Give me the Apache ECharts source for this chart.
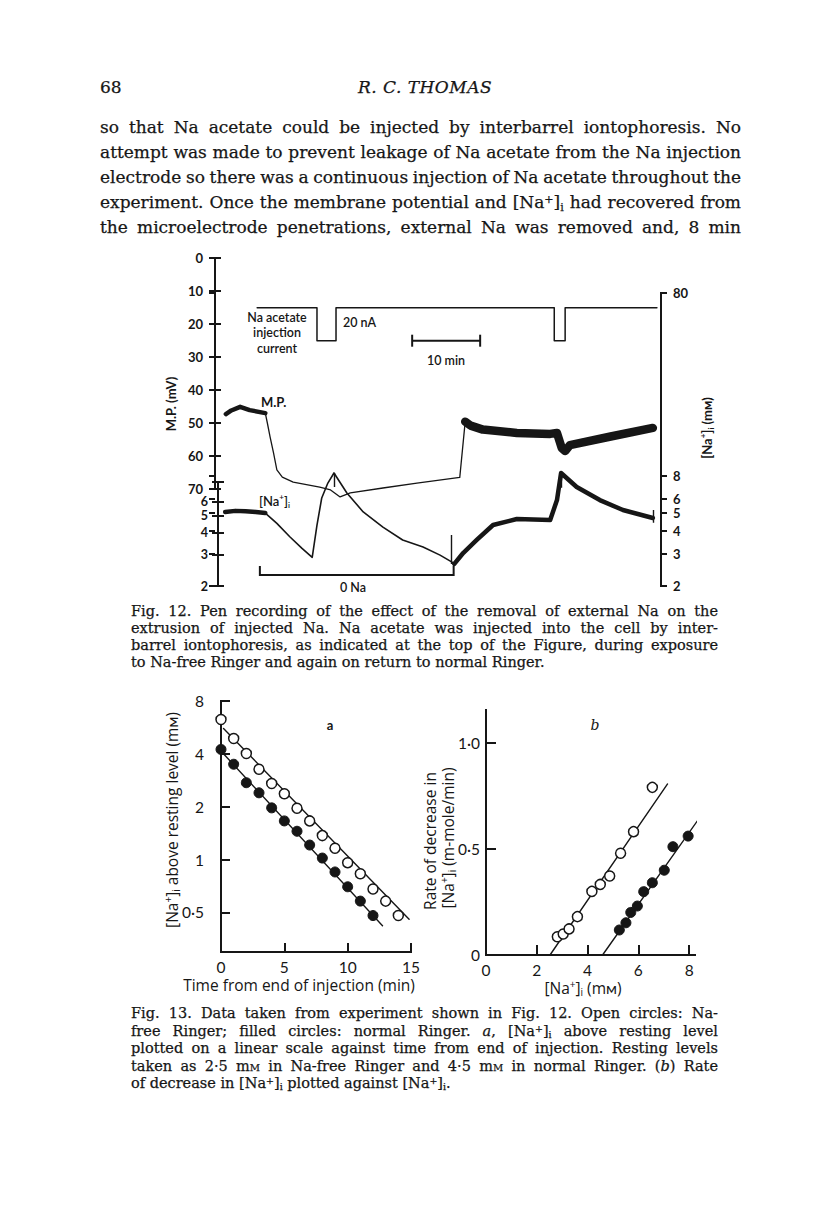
<!DOCTYPE html>
<html>
<head>
<meta charset="utf-8">
<script src="https://cdn.jsdelivr.net/npm/echarts@6.0.0/dist/echarts.min.js"></script>
<style>
  html, body { margin:0; padding:0; background:#fff; }
  #page { position:relative; width:816px; height:1212px; overflow:hidden; background:#fff; }
  #chart { position:absolute; left:0; top:0; width:816px; height:1212px; }
  .t { position:absolute; white-space:nowrap; font-family:"DejaVu Serif","Liberation Serif",serif; color:#161616; -webkit-text-stroke:0.25px #161616; }
  .body { font-size:17px; line-height:20px; }
  .cap { font-size:14.5px; line-height:17px; }
  .t sup { font-size:0.65em; vertical-align:0.45em; line-height:0; }
  .t sub { font-size:0.65em; vertical-align:-0.25em; line-height:0; }
  .sc { font-variant:small-caps; }
</style>
</head>
<body>
<div id="page">
  <div id="chart"></div>

  <div class="t body" style="left:100px;top:77px;">68</div>
  <div class="t body" style="left:100px;top:77px;width:650px;text-align:center;font-style:italic;letter-spacing:0.5px;">R. C. THOMAS</div>

  <div class="t body j" data-w="641" style="left:100px;top:117px;">so that Na acetate could be injected by interbarrel iontophoresis. No</div>
  <div class="t body j" data-w="641" style="left:100px;top:142px;">attempt was made to prevent leakage of Na acetate from the Na injection</div>
  <div class="t body j" data-w="641" style="left:100px;top:167px;">electrode so there was a continuous injection of Na acetate throughout the</div>
  <div class="t body j" data-w="641" style="left:100px;top:192px;">experiment. Once the membrane potential and [Na<sup>+</sup>]<sub>i</sub> had recovered from</div>
  <div class="t body j" data-w="641" style="left:100px;top:217px;">the microelectrode penetrations, external Na was removed and, 8 min</div>

  <div class="t cap j" data-w="587" style="left:131px;top:603px;">Fig. 12. Pen recording of the effect of the removal of external Na on the</div>
  <div class="t cap j" data-w="587" style="left:131px;top:620px;">extrusion of injected Na. Na acetate was injected into the cell by inter-</div>
  <div class="t cap j" data-w="587" style="left:131px;top:637px;">barrel iontophoresis, as indicated at the top of the Figure, during exposure</div>
  <div class="t cap" style="left:131px;top:654px;">to Na-free Ringer and again on return to normal Ringer.</div>

  <div class="t cap j" data-w="587" style="left:131px;top:1005px;">Fig. 13. Data taken from experiment shown in Fig. 12. Open circles: Na-</div>
  <div class="t cap j" data-w="587" style="left:131px;top:1023px;">free Ringer; filled circles: normal Ringer. <i>a</i>, [Na<sup>+</sup>]<sub>i</sub> above resting level</div>
  <div class="t cap j" data-w="587" style="left:131px;top:1040px;">plotted on a linear scale against time from end of injection. Resting levels</div>
  <div class="t cap j" data-w="587" style="left:131px;top:1058px;">taken as 2·5 m<span class="sc">m</span> in Na-free Ringer and 4·5 m<span class="sc">m</span> in normal Ringer. (<i>b</i>) Rate</div>
  <div class="t cap" style="left:131px;top:1075px;">of decrease in [Na<sup>+</sup>]<sub>i</sub> plotted against [Na<sup>+</sup>]<sub>i</sub>.</div>
</div>

<script>
// ================= DATA =================
// Fig. 12 : time in minutes from start of record
// membrane potential (mV, plotted downwards)
const mpEarly  = [[1.6,47.3],[2.4,46.2],[3.7,45.1],[5.1,46.1],[7.4,47.0]];
const mpMiddle = [[7.4,47.0],[7.7,50.0],[8.1,54.2],[8.6,59.0],[9.1,64.2],[9.9,66.4],[11.5,67.9],[15.4,69.4],[17.0,70.3],[18.4,72.4],[19.9,71.2],[24.7,69.7],[29.7,68.2],[36.0,66.5],[36.8,49.6]];
const mpLate   = [[36.8,49.6],[37.6,50.8],[39.4,52.0],[44.4,53.0],[49.3,53.3],[50.3,53.0],[51.0,57.6],[51.5,58.5],[52.2,56.7],[58.2,54.1],[64.4,51.5]];
// intracellular Na (mM, log scale)
const naEarly  = [[1.5,5.08],[3.0,5.15],[4.5,5.12],[6.0,5.08],[7.4,5.01]];
const naMiddle = [[7.4,5.01],[9.1,4.40],[11.0,3.72],[12.8,3.21],[14.3,2.87],[15.0,4.31],[15.7,6.06],[16.6,7.31],[17.5,8.30],[19.4,6.45],[21.8,5.08],[24.7,4.20],[27.6,3.57],[30.6,3.27],[33.1,2.95],[34.8,2.71],[35.2,2.64]];
const naLate   = [[35.2,2.64],[36.5,3.03],[38.5,3.57],[40.9,4.31],[44.4,4.65],[49.3,4.59],[50.3,5.90],[50.9,8.30],[53.2,6.96],[56.6,5.90],[60.0,5.21],[64.4,4.71]];
const naMarkers = [[[17.5,8.30],[17.5,6.96]],[[34.8,3.80],[34.8,2.64]],[[50.9,8.30],[50.9,6.90]],[[64.4,5.20],[64.4,4.43]]];
const zeroNaBar = [[6.6,2.57],[6.6,2.30],[35.1,2.30],[35.1,2.57]];
// injection current (nA)
const injectionCurrent = [[6.2,0],[15.0,0],[15.0,20],[17.8,20],[17.8,0],[49.9,0],[49.9,20],[51.5,20],[51.5,0],[65.0,0]];
const scaleBar10min = [[29,20],[39,20]];
const mpTicks = [0,10,20,30,40,50,60,70];
const naTicksRight = [2,3,4,5,6,8,80];
const naTicksLeft = [2,3,4,5,6];

// Fig. 13a : [Na]i above resting level vs time
const timeOpenA   = [0,1,2,3,4,5,6,7,8,9,10,11,12,13,14];
const naOpenA     = [6.28,4.89,4.02,3.27,2.71,2.37,1.96,1.66,1.37,1.16,0.96,0.83,0.68,0.58,0.48];
const timeFilledA = [0,1,2,3,4,5,6,7,8,9,10,11,12];
const naFilledA   = [4.24,3.49,2.74,2.40,1.97,1.66,1.45,1.21,1.02,0.85,0.70,0.58,0.48];
const fitOpenA    = [[0.2,5.58],[14.85,0.457]];
const fitFilledA  = [[0.05,4.11],[12.75,0.42]];
const ticksAY = [0.5,1,2,4,8];
const ticksAX = [0,5,10,15];

// Fig. 13b : rate of decrease vs [Na]i
const naOpenB     = [2.81,3.04,3.27,3.60,4.17,4.50,4.87,5.30,5.81,6.55];
const rateOpenB   = [0.086,0.099,0.123,0.181,0.300,0.333,0.373,0.480,0.582,0.791];
const naFilledB   = [5.25,5.51,5.70,5.96,6.21,6.55,7.02,7.36,7.96];
const rateFilledB = [0.118,0.152,0.201,0.231,0.299,0.341,0.400,0.511,0.561];
const fitOpenB    = [[2.52,0],[7.15,0.807]];
const fitFilledB  = [[4.59,0],[8.53,0.668]];
const ticksBY = [0,0.5,1.0];
const ticksBX = [0,2,4,6,8];

// ================= CHART =================
const C = '#161616';
const SANS = 'Lato, "Open Sans", sans-serif';
const TITLE = '"Open Sans", Lato, sans-serif';
const dot = v => { const r = Math.round(v*100)/100; return r === 0.5 ? '0·5' : String(Math.round(r)); };
const dotB = v => { const r = Math.round(v*100)/100; return r === 0 ? '0' : r.toFixed(1).replace('.', '·'); };

const tickStyle = {color:C, width:2, cap:'butt'};
const lineStyleAx = {color:C, width:2, cap:'square'};

function hiddenX(g, max){ return {type:'value', gridIndex:g, min:0, max:max, show:false, splitLine:{show:false}}; }

const xAxis = [
  hiddenX(0, 65.6), hiddenX(1, 65.6), hiddenX(2, 1), hiddenX(3, 65.6),
  {type:'value', gridIndex:4, min:0, max:15,
   axisLine:{show:true, onZero:false, lineStyle:lineStyleAx},
   axisTick:{show:true, inside:true, length:9, customValues:ticksAX, lineStyle:tickStyle},
   axisLabel:{show:true, margin:7, customValues:ticksAX, color:C, fontFamily:SANS, fontSize:15.5, lineHeight:16},
   splitLine:{show:false}},
  {type:'value', gridIndex:5, min:0, max:8.23,
   axisLine:{show:true, onZero:false, lineStyle:lineStyleAx},
   axisTick:{show:true, inside:true, length:10, customValues:ticksBX, lineStyle:tickStyle},
   axisLabel:{show:true, margin:7, customValues:ticksBX, color:C, fontFamily:SANS, fontSize:15.5, lineHeight:16},
   splitLine:{show:false}}
];

function f12Axis(o){ return Object.assign({splitLine:{show:false}}, o); }
const f12Label = {color:C, fontFamily:SANS, fontWeight:'bold', fontSize:13, lineHeight:12};
const yAxis = [
  // 0: M.P. labelled axis
  f12Axis({type:'value', gridIndex:0, position:'left', inverse:true, min:0, max:70,
    axisLine:{show:true, onZero:false, lineStyle:lineStyleAx},
    axisTick:{show:true, inside:false, length:6, customValues:mpTicks, lineStyle:tickStyle},
    axisLabel:Object.assign({show:true, margin:12, customValues:mpTicks}, f12Label)}),
  // 1: M.P. inner half of crossing ticks
  f12Axis({type:'value', gridIndex:0, position:'left', inverse:true, min:0, max:70,
    axisLine:{show:false}, axisLabel:{show:false},
    axisTick:{show:true, inside:true, length:6, customValues:mpTicks, lineStyle:tickStyle}}),
  // 2: [Na]i right log axis
  f12Axis({type:'log', logBase:10, gridIndex:1, position:'right', min:2, max:80,
    axisLine:{show:true, onZero:false, lineStyle:lineStyleAx},
    axisTick:{show:true, inside:false, length:6, customValues:naTicksRight, lineStyle:tickStyle},
    axisLabel:Object.assign({show:true, margin:12, customValues:naTicksRight, formatter: v => String(Math.round(v))}, f12Label)}),
  // 3
  f12Axis({type:'log', logBase:10, gridIndex:1, position:'right', min:2, max:80,
    axisLine:{show:false}, axisLabel:{show:false},
    axisTick:{show:true, inside:true, length:6, customValues:naTicksRight, lineStyle:tickStyle}}),
  // 4: [Na]i left short log axis (drawn separately on the pen record)
  f12Axis({type:'log', logBase:10, gridIndex:2, position:'left', min:2, max:7.74,
    axisLine:{show:true, onZero:false, lineStyle:lineStyleAx},
    axisTick:{show:true, inside:false, length:6, customValues:naTicksLeft.concat([7.74]), lineStyle:tickStyle},
    axisLabel:Object.assign({show:true, margin:10, customValues:naTicksLeft, formatter: v => String(Math.round(v))}, f12Label, {fontSize:12.5})}),
  // 5
  f12Axis({type:'log', logBase:10, gridIndex:2, position:'left', min:2, max:7.74,
    axisLine:{show:false}, axisLabel:{show:false},
    axisTick:{show:true, inside:true, length:6, customValues:naTicksLeft.concat([7.74]), lineStyle:tickStyle}}),
  // 6: injection current (hidden)
  {type:'value', gridIndex:3, inverse:true, min:0, max:20, show:false, splitLine:{show:false}},
  // 7: Fig 13a log axis
  {type:'log', logBase:2, gridIndex:4, position:'left', min:0.2976, max:8,
   axisLine:{show:true, onZero:false, lineStyle:lineStyleAx},
   axisTick:{show:true, inside:true, length:9, customValues:ticksAY, lineStyle:tickStyle},
   axisLabel:{show:true, margin:17, customValues:ticksAY, color:C, fontFamily:SANS, fontSize:15.5, lineHeight:16, formatter:dot},
   splitLine:{show:false}},
  // 8: Fig 13b
  {type:'value', gridIndex:5, position:'left', min:0, max:1.156,
   axisLine:{show:true, onZero:false, lineStyle:lineStyleAx},
   axisTick:{show:true, inside:true, length:10, customValues:ticksBY, lineStyle:tickStyle},
   axisLabel:{show:true, margin:6, customValues:ticksBY, color:C, fontFamily:SANS, fontSize:15.5, lineHeight:16, formatter:dotB},
   splitLine:{show:false}}
];

const grid = [
  {left:215, right:155, top:258, bottom:1212-489},
  {left:215, right:155, top:293, bottom:1212-586},
  {left:218, right:816-228, top:482, bottom:1212-586},
  {left:215, right:155, top:307.7, bottom:1212-340.7},
  {left:221, right:816-411, top:701, bottom:1212-952},
  {left:486, right:816-695, top:710, bottom:1212-955}
].map(g => Object.assign({containLabel:false, outerBoundsMode:'none', show:false}, g));

function trace(data, xi, yi, w){
  return {type:'line', xAxisIndex:xi, yAxisIndex:yi, data:data, symbol:'none', showSymbol:false,
    clip:false, silent:true, lineStyle:{color:C, width:w, join:'round', cap:'round', opacity:1}, z:2};
}
function pts(xs, ys){ return xs.map((x,i) => [x, ys[i]]); }
function circles(xi, yi, data, filled){
  return {type:'scatter', xAxisIndex:xi, yAxisIndex:yi, data:data, symbol:'circle', symbolSize:10, silent:true, z:4,
    itemStyle:{color: filled ? C : '#fff', borderColor:C, borderWidth: filled ? 1 : 1.5, opacity:1}};
}

const series = [
  trace(mpEarly, 0, 0, 4.5),
  trace(mpMiddle, 0, 0, 1.3),
  trace(mpLate, 0, 0, 8.5),
  trace(naEarly, 1, 2, 4.5),
  trace(naMiddle, 1, 2, 1.6),
  trace(naLate, 1, 2, 4.5),
  {type:'lines', coordinateSystem:'cartesian2d', xAxisIndex:1, yAxisIndex:2, silent:true,
   data: naMarkers.map(c => ({coords:c})), lineStyle:{color:C, width:1.4, opacity:1, curveness:0}},
  {type:'lines', coordinateSystem:'cartesian2d', xAxisIndex:1, yAxisIndex:2, polyline:true, silent:true,
   data: [{coords: zeroNaBar}], lineStyle:{color:C, width:2, opacity:1}},
  trace(injectionCurrent, 3, 6, 1.5),
  {type:'line', xAxisIndex:3, yAxisIndex:6, data:scaleBar10min, symbol:'rect', symbolSize:[2,12],
   showSymbol:true, clip:false, silent:true, itemStyle:{color:C, opacity:1}, lineStyle:{color:C, width:2}},

  // Fig 13a
  trace(fitOpenA, 4, 7, 1.4),
  trace(fitFilledA, 4, 7, 1.4),
  circles(4, 7, pts(timeOpenA, naOpenA), false),
  circles(4, 7, pts(timeFilledA, naFilledA), true),

  // Fig 13b
  trace(fitOpenB, 5, 8, 1.4),
  trace(fitFilledB, 5, 8, 1.4),
  circles(5, 8, pts(naOpenB, rateOpenB), false),
  circles(5, 8, pts(naFilledB, rateFilledB), true)
];

// ---- text annotations ----
function T(x, y, text, o){
  o = o || {};
  return {type:'text', x:x, y:y, rotation:o.rot || 0, silent:true, z:10,
    style:{text:text, fill:C, fontFamily:o.family || SANS, fontSize:o.size || 13, fontWeight:o.weight || 'normal',
      fontStyle:o.style || 'normal',
      textAlign:o.align || 'center', align:o.align || 'center',
      textVerticalAlign:'middle', verticalAlign:'middle', rich:o.rich}};
}
function naRich(size, weight, family){
  const fam = family || SANS;
  const base = {fontFamily:fam, fontSize:size, fontWeight:weight, fill:C, color:C, lineHeight:size+3, verticalAlign:'middle'};
  const small = Object.assign({}, base, {fontSize:Math.round(size*0.65), lineHeight:Math.round(size*0.65)+1});
  return {
    m: base,
    p: Object.assign({}, small, {verticalAlign:'top'}),
    s: Object.assign({}, small, {verticalAlign:'bottom'})
  };
}
const NA = '{m|[Na}{p|+}{m|]}{s|i}';
const R90 = Math.PI/2;

const graphic = [
  // Fig 12
  T(277, 317, 'Na acetate', {size:12.5, weight:600}),
  T(277, 332.5, 'injection', {size:12.5, weight:600}),
  T(277, 348.5, 'current', {size:12.5, weight:600}),
  T(343, 322, '20 nA', {size:12.5, weight:600, align:'left'}),
  T(446, 360, '10 min', {size:12.5, weight:600}),
  T(261, 402, 'M.P.', {size:13, weight:'bold', align:'left'}),
  T(259, 501, NA, {size:13, weight:600, align:'left', rich:naRich(13, 600)}),
  T(353, 587, '0 Na', {size:12.5, weight:600}),
  T(171, 404, 'M.P. (mV)', {size:13, weight:'bold', rot:R90}),
  T(707, 428, NA + '{m| (mᴍ)}', {size:13, weight:'bold', rot:R90, rich:naRich(13, 'bold')}),
  // Fig 13a
  T(330, 725, 'a', {size:13, weight:'bold'}),
  T(172, 820, NA + '{m| above resting level (mᴍ)}', {size:15.5, rot:R90, family:TITLE, rich:naRich(15.5, 'normal', TITLE)}),
  T(299, 985, 'Time from end of injection (min)', {size:15.5, family:TITLE}),
  // Fig 13b
  T(595, 725, 'b', {size:14, style:'italic', family:'"DejaVu Serif", serif'}),
  T(430, 841, 'Rate of decrease in', {size:15.5, family:TITLE, rot:R90}),
  T(448, 838, NA + '{m| (m-mole/min)}', {size:15.5, family:TITLE, rot:R90, rich:naRich(15.5, 'normal', TITLE)}),
  T(583, 988, NA + '{m| (mᴍ)}', {size:15.5, family:TITLE, rich:naRich(15.5, 'normal', TITLE)})
];

const chart = echarts.init(document.getElementById('chart'), null, {renderer:'svg', width:816, height:1212});
chart.setOption({
  animation:false,
  backgroundColor:'transparent',
  grid: grid,
  xAxis: xAxis,
  yAxis: yAxis,
  series: series,
  graphic: graphic
});

// ---- justify page text lines ----
function justify(){
  document.querySelectorAll('.j').forEach(el => {
    el.style.wordSpacing = '0px';
    const target = parseFloat(el.dataset.w);
    const w = el.getBoundingClientRect().width;
    const n = (el.textContent.match(/ /g) || []).length;
    if (n > 0) el.style.wordSpacing = ((target - w) / n) + 'px';
  });
}
justify();
if (document.fonts && document.fonts.ready) document.fonts.ready.then(justify);
</script>
</body>
</html>
